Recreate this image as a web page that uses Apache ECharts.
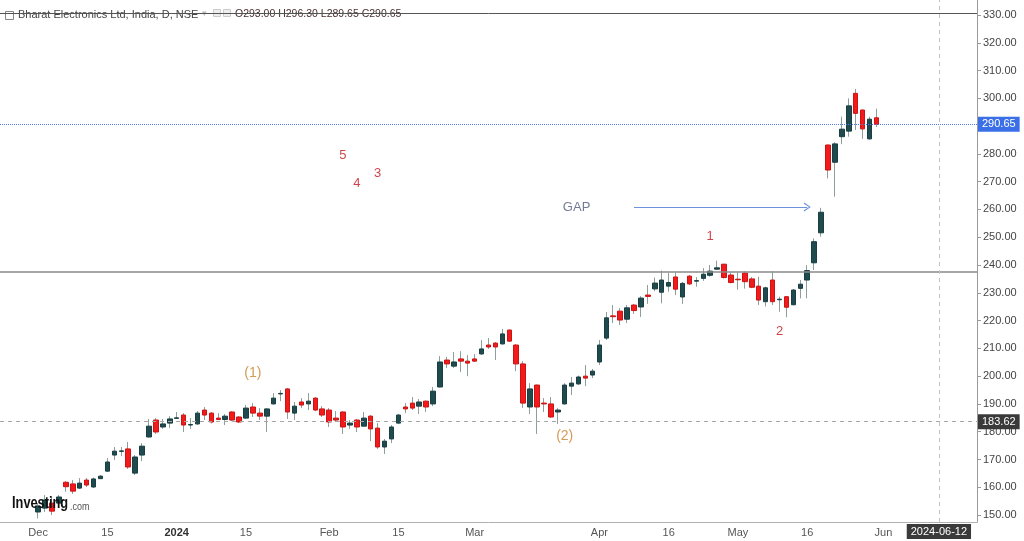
<!DOCTYPE html>
<html><head><meta charset="utf-8">
<script src="https://cdn.jsdelivr.net/npm/echarts@6/dist/echarts.min.js"></script>
<style>html,body{margin:0;padding:0;background:#fff}#c{width:1024px;height:541px}</style>
</head><body><div id="c"></div>
<script>
// ---- calendar (NSE trading days) ----
const holidays = ['2023-12-25','2024-01-22','2024-01-26','2024-03-08','2024-03-25','2024-03-29',
  '2024-04-11','2024-04-17','2024-05-01','2024-05-20','2024-06-17'];
const specialSessions = ['2024-01-20'];
const padDates = ['2023-11-23','2023-11-24','2023-11-28','2023-11-29','2023-11-30'];
function fmt(d){return d.toISOString().slice(0,10);}
function tradingDays(from,to){
  const out=[];const d=new Date(from+'T00:00:00Z');const end=new Date(to+'T00:00:00Z');
  while(d<=end){const s=fmt(d);const wd=d.getUTCDay();
    if((wd>0&&wd<6&&holidays.indexOf(s)<0)||specialSessions.indexOf(s)>=0)out.push(s);
    d.setUTCDate(d.getUTCDate()+1);}
  return out;
}
const tradeDates = tradingDays('2023-12-01','2024-05-31');
const futureDates = tradingDays('2024-06-03','2024-06-21');
const categories = padDates.concat(tradeDates, futureDates);

// ---- x tick labels ----
const tickDates  = ['2023-12-01','2023-12-15','2024-01-01','2024-01-15','2024-02-01','2024-02-15','2024-03-01','2024-04-01','2024-04-16','2024-05-02','2024-05-16','2024-06-03'];
const tickTexts  = ['Dec','15','2024','15','Feb','15','Mar','Apr','16','May','16','Jun'];

// ---- OHLC (daily) ----
const openP = [151.1,152.5,154.3,154.3,161.8,161.2,159.7,162.6,160.1,163.1,
  165.8,171.6,172.9,173.8,165.1,171.6,178.1,184.2,181.7,183.1,
  184.8,186.0,182.4,182.8,187.8,186.7,184.9,184.4,187.1,185.3,
  184.9,188.9,186.7,185.6,190.0,193.6,195.4,186.7,190.7,190.0,
  192.1,188.2,187.8,184.9,187.1,182.4,184.2,182.0,185.6,181.3,
  174.5,177.4,183.1,188.9,190.3,189.2,191.0,190.0,196.1,205.8,
  203.6,206.2,205.4,206.2,208.0,211.2,211.9,211.6,216.6,211.2,
  204.4,188.9,196.8,190.3,190.0,187.1,190.0,196.4,197.2,200.0,
  200.4,205.1,213.7,221.7,223.4,220.5,225.6,224.9,229.2,231.4,
  230.2,232.4,235.7,228.5,236.0,234.2,235.2,236.3,238.5,240.3,
  236.4,234.9,237.1,235.0,232.4,226.8,234.6,227.5,228.6,225.7,
  231.6,234.6,240.8,251.6,283.2,277.0,286.2,288.2,301.8,295.8,
  285.4,293.0];
const highP = [154.3,157.2,156.5,157.2,162.2,162.6,163.3,163.3,163.5,164.4,
  170.5,174.5,174.5,176.3,171.6,175.9,184.6,184.9,184.6,185.6,
  187.1,186.7,184.9,187.4,188.9,187.1,186.7,186.4,187.4,185.6,
  189.6,190.3,188.5,188.5,193.9,195.0,195.7,190.7,192.1,193.9,
  192.5,189.2,188.5,187.4,187.4,184.2,184.6,187.1,186.0,183.1,
  177.4,182.4,186.4,190.3,192.5,191.8,191.2,196.1,207.2,206.9,
  208.7,209.0,207.6,208.0,213.0,213.7,212.3,217.0,216.8,211.6,
  205.4,197.5,197.0,192.1,192.5,188.5,197.5,199.7,200.2,204.0,
  202.6,213.0,223.1,225.6,224.5,225.6,226.0,228.8,232.8,235.5,
  238.0,237.1,237.3,233.9,236.4,235.6,238.9,240.0,241.6,240.4,
  237.3,237.4,237.7,235.7,235.8,232.2,237.8,228.6,228.8,231.4,
  234.6,240.0,249.6,260.6,283.4,284.2,293.4,300.0,303.4,296.0,
  293.4,296.3];
const lowP = [148.8,151.1,150.0,153.6,158.4,157.6,159.4,160.1,159.7,163.0,
  165.5,169.8,171.2,166.6,164.4,169.4,177.9,179.2,181.0,181.3,
  184.6,179.9,181.0,182.4,184.2,183.0,184.2,182.4,183.8,183.1,
  184.6,185.3,184.2,179.9,189.8,191.0,184.6,184.2,188.5,187.8,
  187.4,185.3,181.7,183.5,179.2,181.0,179.9,181.9,176.6,173.8,
  172.0,175.9,182.8,186.7,187.8,186.4,187.1,189.2,195.9,202.9,
  202.9,201.5,200.0,205.1,207.6,209.8,205.8,211.4,212.3,201.8,
  188.5,186.4,179.2,187.1,184.9,182.8,189.8,193.2,196.8,196.4,
  199.3,204.0,213.0,219.1,218.4,219.1,222.4,221.3,226.0,230.6,
  226.2,230.4,229.2,226.0,232.8,232.2,234.3,235.8,238.2,235.1,
  233.4,231.1,231.5,231.7,225.6,225.1,225.6,223.2,221.2,225.5,
  228.0,228.0,238.2,250.2,271.2,264.6,283.5,286.2,288.6,285.4,
  285.2,289.65];
const closeP = [153.2,155.4,151.4,156.5,160.2,158.6,161.5,160.8,163.0,164.0,
  169.1,173.0,173.1,167.3,170.9,174.8,182.0,179.9,182.8,184.6,
  185.0,182.4,182.6,186.7,186.0,183.5,184.4,185.6,184.2,183.5,
  188.5,186.7,185.6,188.2,192.1,193.8,187.1,189.2,189.6,191.0,
  187.8,186.0,183.5,184.2,181.7,183.1,181.7,184.9,181.0,174.5,
  176.6,181.7,186.0,188.2,188.5,190.7,188.9,194.6,205.1,204.4,
  205.1,205.4,204.7,205.4,209.8,210.5,210.5,215.2,212.6,204.4,
  190.3,195.4,188.9,190.0,185.3,187.8,196.8,197.5,199.7,199.3,
  201.8,211.2,221.0,221.4,220.2,224.6,223.6,228.1,228.7,233.5,
  234.6,233.7,231.3,233.4,233.2,234.4,236.7,237.8,239.0,235.5,
  233.7,234.7,234.0,232.0,227.4,231.8,226.8,227.7,224.8,231.0,
  233.1,238.0,248.4,259.0,274.2,283.6,288.9,297.3,294.6,289.0,
  292.5,290.65];

// ---- reference levels / annotations (data units) ----
const lastPrice = 290.65;
const supportLevel = 183.62;
const topLevel = 330.7;
const resistanceLevel = 237.6;
const markerDate = '2024-06-12';
const gapArrow = {fromIdx: 86, toIdx: 111, price: 260.9};
const redCounts = [['5',44,279.6],['4',46,269.2],['3',49,272.8],['1',97,250.4],['2',107,216.2]];
const waveCounts = [['(1)',31,201.1],['(2)',76,178.4]];
const gapText = ['GAP',78,260.9];

const FONT = '"Liberation Sans", Arial, sans-serif';
const wickData = tradeDates.map((d,i)=>[d, openP[i], closeP[i], lowP[i], highP[i]]);
const bodyData = tradeDates.map((d,i)=>[d, openP[i], closeP[i], Math.min(openP[i],closeP[i]), Math.max(openP[i],closeP[i])]);
const lbl = (bg)=>({show:true, position:'end', distance:1, color:'#fff', backgroundColor:bg,
  padding:[2,4,1,4], fontSize:11, lineHeight:12, fontFamily:FONT});
// the chart's time scale places the marker slightly right of the bar slot
const markerPos = categories.indexOf(markerDate) + 0.7;

const chart = echarts.init(document.getElementById('c'));
chart.setOption({
  animation:false,
  backgroundColor:'#fff',
  textStyle:{fontFamily:FONT},
  grid:{left:0, right:47, top:0, bottom:19},
  xAxis:{type:'category', data:categories, boundaryGap:true,
    axisLine:{lineStyle:{color:'#b0b0b0'}}, axisTick:{show:false}, splitLine:{show:false},
    axisLabel:{interval:(i,v)=>tickDates.indexOf(v)>=0,
      formatter:(v)=>{const t=tickTexts[tickDates.indexOf(v)]; return t==='2024'?'{b|2024}':t;},
      color:'#555', fontSize:11, margin:5, rich:{b:{fontWeight:'bold', color:'#333', fontSize:11}}}},
  yAxis:{type:'value', position:'right', min:147.5, max:335.4, splitNumber:19,
    axisLine:{show:true, lineStyle:{color:'#9a9a9a'}},
    axisTick:{show:true, length:4, lineStyle:{color:'#9a9a9a'}},
    splitLine:{show:false},
    axisLabel:{formatter:(v)=>v.toFixed(2), color:'#444', fontSize:11, margin:6, showMinLabel:false, showMaxLabel:false}},
  graphic:[
    {type:'rect', left:3, top:9, shape:{width:8, height:8}, style:{fill:'none', stroke:'#888', lineWidth:1}, z:1},
    {type:'rect', left:5, top:13, shape:{width:4, height:0.5}, style:{fill:'#888'}, z:1},
    {type:'text', left:18, top:9, style:{text:'Bharat Electronics Ltd, India, D, NSE', fill:'#444', font:'11px '+FONT}, z:1},
    {type:'text', left:202, top:9, style:{text:'\u25BE', fill:'#bbb', font:'9px '+FONT}, z:1},
    {type:'rect', left:213, top:9, shape:{width:7, height:7}, style:{fill:'#eee', stroke:'#ccc'}, z:1},
    {type:'rect', left:223, top:9, shape:{width:7, height:7}, style:{fill:'#eee', stroke:'#ccc'}, z:1},
    {type:'text', left:235, top:9, style:{text:'O293.00 H296.30 L289.65 C290.65', fill:'#4a3030', font:'10.5px '+FONT}, z:1},
    {type:'text', x:12, y:496, scaleX:0.8, style:{text:'Investing', fill:'#111', font:'bold 16px '+FONT}, z:50},
    {type:'text', x:70, y:502, scaleX:0.9, style:{text:'.com', fill:'#555', font:'10px '+FONT}, z:50}
  ],
  series:[
    {type:'candlestick', name:'wick', data:wickData, encode:{x:0, y:[1,2,3,4]}, barWidth:1, z:2,
      itemStyle:{color:'#8d9f99', color0:'#8d9f99', borderColor:'#8d9f99', borderColor0:'#8d9f99', borderWidth:1},
      markLine:{silent:true, symbol:'none', animation:false,
        data:[
          {yAxis:topLevel, lineStyle:{color:'#555', width:1, type:'solid'}, label:{show:false}},
          {yAxis:resistanceLevel, lineStyle:{color:'#8a8a8a', width:1.5, type:'solid'}, label:{show:false}},
          {yAxis:lastPrice, lineStyle:{color:'#5577e0', width:1, type:'dotted'}, label:Object.assign(lbl('#3b6fe8'),{formatter:lastPrice.toFixed(2)})},
          {yAxis:supportLevel, lineStyle:{color:'#a8a8a8', width:1, type:[4,4]}, label:Object.assign(lbl('#3a3a3a'),{formatter:supportLevel.toFixed(2)})},
          {xAxis:markerPos, lineStyle:{color:'#c4c4c4', width:1, type:[4,4]},
            label:{show:true, position:'start', distance:2, formatter:markerDate, color:'#fff', backgroundColor:'#3a3a3a', padding:[2,4,1,4], fontSize:11, lineHeight:12, fontFamily:FONT}},
          [{coord:[tradeDates[gapArrow.fromIdx], gapArrow.price], symbol:'none'},
           {coord:[tradeDates[gapArrow.toIdx], gapArrow.price], symbol:'path://M0,10 L5,0 L10,10 L8.6,10.8 L5,2.6 L1.4,10.8 Z', symbolSize:[9,7],
            lineStyle:{color:'#7090e0', width:1, type:'solid'}, label:{show:false}}]
        ]}
    },
    {type:'candlestick', name:'body', data:bodyData, encode:{x:0, y:[1,2,3,4]}, barWidth:5, z:3,
      itemStyle:{color:'#1f4b4e', color0:'#f21a1a', borderColor:'#1a3f42', borderColor0:'#cc1414', borderWidth:1}},
    {type:'scatter', symbolSize:0, z:4, data:redCounts.map(a=>[tradeDates[a[1]], a[2], a[0]]),
      label:{show:true, position:'inside', formatter:(p)=>p.value[2], color:'#c0141c', fontSize:13, fontFamily:FONT}},
    {type:'scatter', symbolSize:0, z:4, data:waveCounts.map(a=>[tradeDates[a[1]], a[2], a[0]]),
      label:{show:true, position:'inside', formatter:(p)=>p.value[2], color:'#c8822a', fontSize:14, fontFamily:FONT}},
    {type:'scatter', symbolSize:0, z:4, data:[[tradeDates[gapText[1]], gapText[2], gapText[0]]],
      label:{show:true, position:'inside', offset:[-2,0], formatter:(p)=>p.value[2], color:'#4e5a78', fontSize:13, fontFamily:FONT}}
  ]
});
</script></body></html>
